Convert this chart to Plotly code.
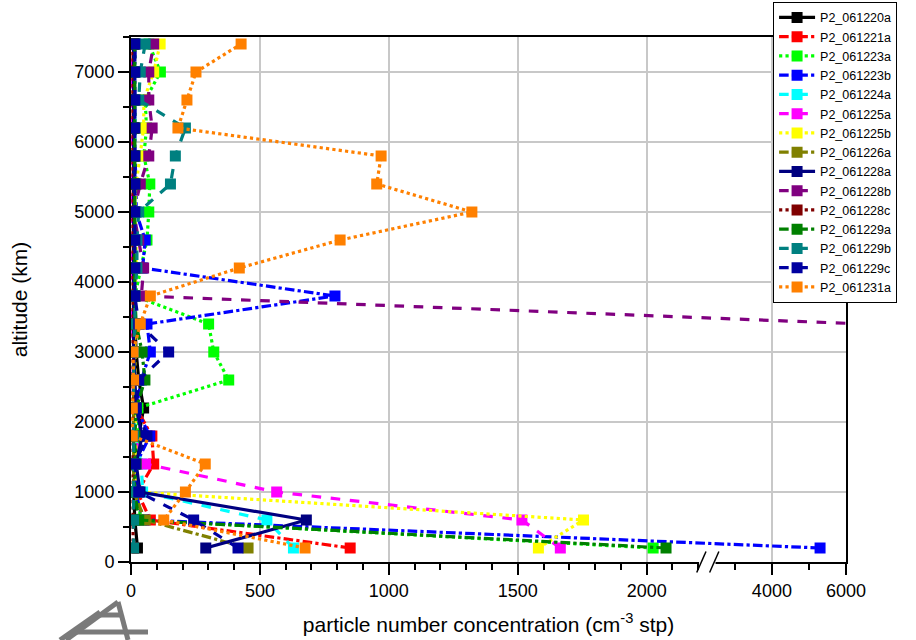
import plotly.graph_objects as go

# ---------------- data ----------------
altitude = [200, 600, 1000, 1400, 1800, 2200, 2600, 3000, 3400, 3800,
            4200, 4600, 5000, 5400, 5800, 6200, 6600, 7000, 7400]

series_names = ["P2_061220a", "P2_061221a", "P2_061223a", "P2_061223b", "P2_061224a",
                "P2_061225a", "P2_061225b", "P2_061226a", "P2_061228a", "P2_061228b",
                "P2_061228c", "P2_061229a", "P2_061229b", "P2_061229c", "P2_061231a"]

v_061220a = [25, 15, 10, 20, 30, 49, 30, 20, 15, 10, 10, 10, 10, 10, 10, 10, 10, 10, 10]
v_061221a = [850, 75, 25, 88, 81, 20, 10, 10, 8, 8, 8, 8, 8, 8, 8, 8, 8, 8, 8]
v_061223a = [2025, 40, 20, 25, 30, 27, 379, 321, 301, 15, 40, 62, 69, 73, 50, 60, 55, 114, 70]
v_061223b = [5300, 50, 15, 20, 73, 20, 40, 75, 62, 791, 45, 55, 20, 20, 15, 15, 15, 15, 15]
v_061224a = [630, 527, 45, 40, 15, 10, 10, 10, 10, 10, 10, 10, 10, 10, 10, 17, 10, 10, 10]
v_061225a = [1665, 1516, 565, 56, 10, 8, 8, 8, 5, 5, 5, 5, 5, 5, 5, 5, 5, 5, 5]
v_061225b = [1580, 1755, 23, 20, 15, 15, 15, 15, 15, 15, 20, 20, 15, 20, 35, 49, 50, 88, 113]
v_061226a = [454, 55, 10, 10, 10, 10, 10, 10, 10, 10, 10, 10, 10, 10, 10, 10, 10, 10, 10]
v_061228a = [290, 680, 35, 20, 43, 20, 15, 10, 10, 10, 10, 10, 10, 10, 10, 10, 10, 10, 10]
v_061228b = [None, None, None, None, None, None, None, None, 6500, 40, 49, 30, 10, 36, 69, 82, 69, 69, 88]
v_061228c = [8, 8, 8, 8, 8, 8, 8, 8, 8, 8, 8, 8, 8, 8, 8, 8, 8, 8, 8]
v_061229a = [2075, 30, 15, 15, 15, 20, 54, 43, 20, 15, 15, 15, 15, 15, 15, 15, 15, 15, 15]
v_061229b = [10, 10, 10, 10, 10, 10, 10, 10, 15, 15, 23, 23, 30, 153, 172, 211, 30, 36, 55]
v_061229c = [415, 243, 30, 15, 62, 20, 30, 146, 30, 15, 15, 15, 15, 15, 15, 15, 15, 15, 15]
v_061231a = [675, 127, 211, 288, 5, 5, 10, 8, 36, 75, 420, 811, 1322, 953, 970, 182, 217, 252, 427]

series_values = [v_061220a, v_061221a, v_061223a, v_061223b, v_061224a, v_061225a, v_061225b,
                 v_061226a, v_061228a, v_061228b, v_061228c, v_061229a, v_061229b, v_061229c,
                 v_061231a]

colors = ["#000000", "#FF0000", "#00FF00", "#0000FF", "#00FFFF", "#FF00FF", "#FFFF00",
          "#808000", "#000080", "#800080", "#800000", "#008000", "#008080", "#0000A0", "#FF8000"]
dashes = ["solid", "dashdot", "dot", "dashdot", "dash", "dash", "dot",
          "dashdot", "solid", "dash", "dot", "dashdot", "dash", "dash", "dot"]

x_tick_labels = [0, 500, 1000, 1500, 2000, 4000, 6000]
y_tick_values = [0, 1000, 2000, 3000, 4000, 5000, 6000, 7000]

# ---------------- broken x-axis (0-2200 | 2500-6000) ----------------
BREAK_LO, BREAK_HI, GAP = 2200, 2500, 70
SCALE2 = 0.1437


def to_disp(v):
    if v is None:
        return None
    if v <= BREAK_LO:
        return v
    return BREAK_LO + GAP + (v - BREAK_HI) * SCALE2


X_MAX = to_disp(6000)

fig = go.Figure()
for name, vals, col, dsh in zip(series_names, series_values, colors, dashes):
    fig.add_trace(go.Scatter(
        x=[to_disp(v) for v in vals], y=altitude, name=name,
        mode="lines+markers",
        line=dict(color=col, width=3.2, dash=dsh),
        marker=dict(symbol="square", size=11, color=col),
        connectgaps=False,
    ))

minor_x = [v for v in range(100, 2201, 100) if v % 500 != 0] + [to_disp(3000), to_disp(5000)]

fig.update_layout(
    width=916, height=640,
    margin=dict(l=131, r=70, t=37, b=78, autoexpand=False),
    paper_bgcolor="white", plot_bgcolor="white",
    font=dict(family="Liberation Sans, Arial, sans-serif", color="black"),
    showlegend=True,
    legend=dict(x=0.898, y=1.067, xanchor="left", yanchor="top",
                bgcolor="white", bordercolor="black", borderwidth=1,
                font=dict(size=12.5), tracegroupgap=0, itemwidth=36, maxheight=1),
    xaxis=dict(
        range=[0, X_MAX], tickmode="array",
        tickvals=[to_disp(v) for v in x_tick_labels],
        ticktext=[str(v) for v in x_tick_labels],
        showgrid=True, gridcolor="#C8C8C8", gridwidth=1.5,
        showline=True, linecolor="black", linewidth=2, mirror=True,
        ticks="outside", ticklen=11, tickwidth=2, tickcolor="black",
        tickfont=dict(size=18),
        minor=dict(tickmode="array", tickvals=minor_x, ticks="outside",
                   ticklen=6, tickwidth=1.5, tickcolor="black", showgrid=False),
        zeroline=False,
        title=dict(text="particle number concentration (cm<sup>-3</sup> stp)",
                   font=dict(size=21), standoff=18),
    ),
    yaxis=dict(
        range=[0, 7500], tickmode="array", tickvals=y_tick_values,
        showgrid=True, gridcolor="#C8C8C8", gridwidth=1.5,
        showline=True, linecolor="black", linewidth=2, mirror=True,
        ticks="outside", ticklen=11, tickwidth=2, tickcolor="black",
        tickfont=dict(size=18),
        minor=dict(dtick=500, tick0=0, ticks="outside", ticklen=6, tickwidth=1.5,
                   tickcolor="black", showgrid=False),
        zeroline=False,
        title=dict(text="altitude (km)", font=dict(size=21), standoff=41),
    ),
)

# axis break marks
fig.add_shape(type="line", xref="x", yref="paper", x0=BREAK_LO + 3, x1=BREAK_LO + GAP - 3,
              y0=0, y1=0, line=dict(color="white", width=5), layer="above")
for xc in (BREAK_LO + 12, BREAK_LO + GAP - 8):
    fig.add_shape(type="line", xref="x", yref="paper", x0=xc - 18, x1=xc + 18,
                  y0=-0.02, y1=0.02, line=dict(color="black", width=1.5), layer="above")


# grey logo in the bottom-left corner (decoration, pixel -> paper)
def px(xp):
    return (xp - 131) / 715


def py(yp):
    return (562 - yp) / 525


logo_grey = "#7A7A7A"
for (xa, ya, xb, yb) in [(66, 640, 118, 602), (118, 602, 128, 640), (100, 615, 122, 615),
                         (72, 632, 148, 632), (60, 640, 100, 612)]:
    fig.add_shape(type="line", xref="paper", yref="paper",
                  x0=px(xa), y0=py(ya), x1=px(xb), y1=py(yb),
                  line=dict(color=logo_grey, width=5), layer="above")

fig.write_html("out.html")
